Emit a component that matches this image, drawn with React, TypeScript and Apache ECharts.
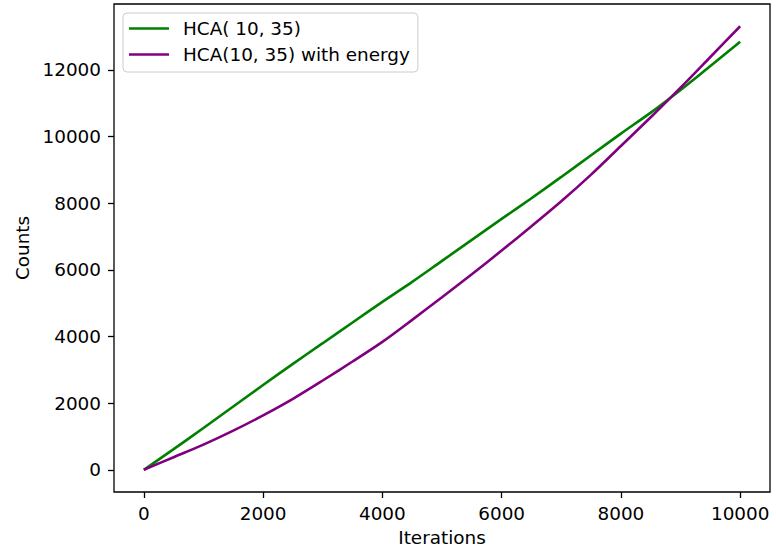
import React, { useEffect, useRef } from "react";
import * as echarts from "echarts";

const iterations = [0, 500, 1000, 1500, 2000, 2500, 3000, 3500, 4000, 4500, 5000, 5500, 6000, 6500, 7000, 7500, 8000, 8500, 9000, 9500, 10000];
const hcaCounts = [0, 620, 1254, 1900, 2545, 3180, 3800, 4420, 5040, 5640, 6270, 6900, 7530, 8150, 8790, 9440, 10090, 10720, 11400, 12120, 12846];
const hcaEnergyCounts = [0, 378, 756, 1174, 1633, 2130, 2680, 3250, 3840, 4500, 5180, 5870, 6580, 7310, 8060, 8860, 9720, 10580, 11470, 12390, 13313];
const xTicks = [0, 2000, 4000, 6000, 8000, 10000];
const yTicks = [0, 2000, 4000, 6000, 8000, 10000, 12000];
const seriesNames = ["HCA( 10, 35)", "HCA(10, 35) with energy"];
const xName = "Iterations";
const yName = "Counts";

const FONT = "DejaVu Sans";
const FS = 18.4;

export default function App() {
  const ref = useRef<HTMLDivElement>(null);
  useEffect(() => {
    const chart = echarts.init(ref.current!, null, { renderer: "svg" });
    const axisCommon = {
      type: "value" as const,
      axisLine: { show: false, onZero: false },
      splitLine: { show: false },
      nameLocation: "middle" as const,
      nameTextStyle: { fontFamily: FONT, fontSize: FS, color: "#000" },
    };
    chart.setOption({
      animation: false,
      backgroundColor: "#fff",
      grid: {
        left: 114,
        right: 6,
        top: 4,
        bottom: 56,
        show: true,
        borderColor: "#000",
        borderWidth: 1.3,
        backgroundColor: "transparent",
      },
      xAxis: {
        ...axisCommon,
        min: -500,
        max: 10500,
        name: xName,
        nameGap: 36,
        axisTick: { show: true, inside: false, length: 6, customValues: xTicks, lineStyle: { color: "#000", width: 1.3 } },
        axisLabel: { customValues: xTicks, formatter: (v: number) => String(v), fontFamily: FONT, fontSize: FS, color: "#000", margin: 12 },
      },
      yAxis: {
        ...axisCommon,
        min: -666,
        max: 13980,
        name: yName,
        nameGap: 82,
        axisTick: { show: true, inside: false, length: 6, customValues: yTicks, lineStyle: { color: "#000", width: 1.3 } },
        axisLabel: { customValues: yTicks, formatter: (v: number) => String(v), fontFamily: FONT, fontSize: FS, color: "#000", margin: 13 },
      },
      legend: {
        data: seriesNames.map((n) => ({ name: n, icon: "rect" })),
        orient: "vertical",
        left: 123,
        top: 13,
        itemWidth: 40,
        itemHeight: 2.6,
        itemGap: 7,
        textStyle: { fontFamily: FONT, fontSize: FS, lineHeight: 19, color: "#000", padding: [0, 0, 0, 9] },
        backgroundColor: "rgba(255,255,255,0.8)",
        borderColor: "#cccccc",
        borderWidth: 1,
        borderRadius: 4,
        padding: [6, 8, 8, 6],
      },
      series: [
        {
          name: seriesNames[0],
          type: "line",
          data: iterations.map((x, i) => [x, hcaCounts[i]]),
          symbol: "none",
          smooth: 0.3,
          lineStyle: { color: "#008000", width: 2.6 },
          itemStyle: { color: "#008000" },
        },
        {
          name: seriesNames[1],
          type: "line",
          data: iterations.map((x, i) => [x, hcaEnergyCounts[i]]),
          symbol: "none",
          smooth: 0.3,
          lineStyle: { color: "#800080", width: 2.6 },
          itemStyle: { color: "#800080" },
        },
      ],
    });
    return () => chart.dispose();
  }, []);
  return <div ref={ref} style={{ position: "absolute", left: 0, top: 0, width: 776, height: 551 }} />;
}
